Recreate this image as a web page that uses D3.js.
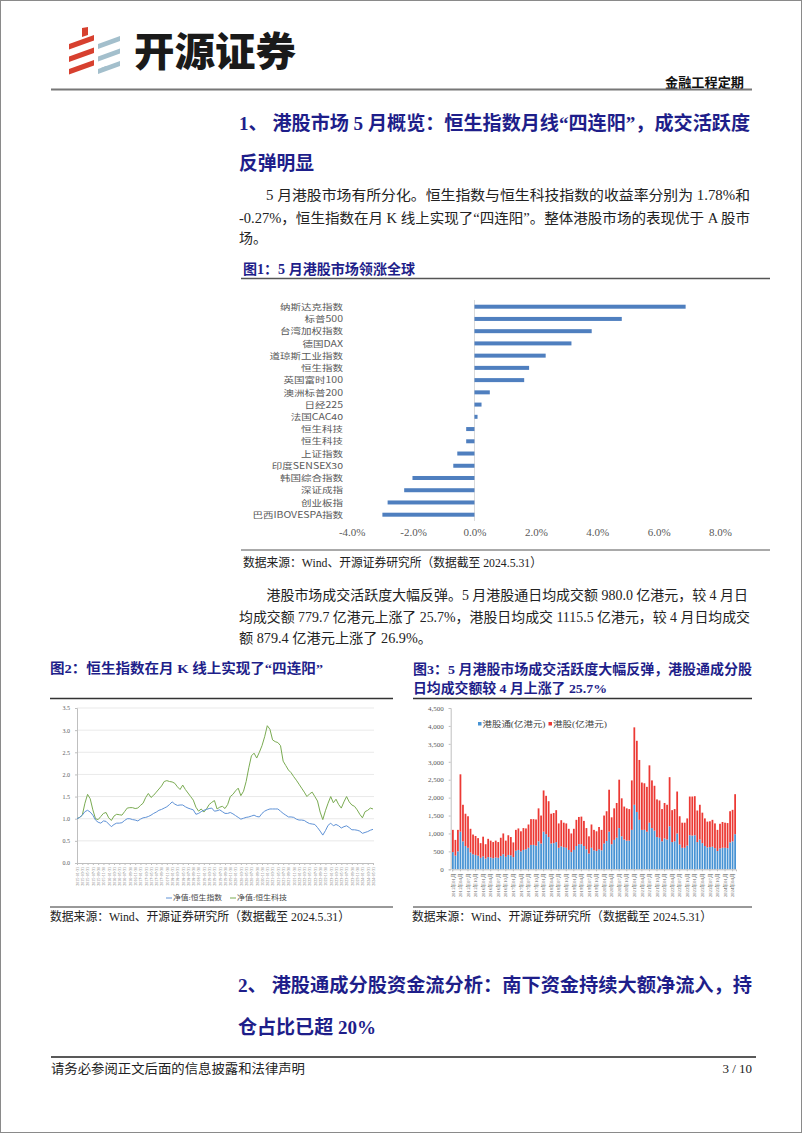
<!DOCTYPE html>
<html><head><meta charset="utf-8">
<script src="https://cdn.jsdelivr.net/npm/d3@7/dist/d3.min.js"></script>
<style>
html,body{margin:0;padding:0;background:#fff;}
svg{display:block;}
</style></head>
<body><svg id="page" width="802" height="1133"></svg>
<script>
// ---------------- DATA ----------------
const fig1Categories = ["纳斯达克指数","标普500","台湾加权指数","德国DAX","道琼斯工业指数","恒生指数","英国富时100","澳洲标普200","日经225","法国CAC40","恒生科技","恒生科技","上证指数","印度SENSEX30","韩国综合指数","深证成指","创业板指","巴西IBOVESPA指数"];
const fig1Values = [6.88,4.80,3.82,3.16,2.32,1.78,1.62,0.50,0.23,0.10,-0.27,-0.27,-0.56,-0.69,-2.02,-2.29,-2.83,-3.00];
const fig1Ticks = [-4,-2,0,2,4,6,8];

const fig2Months = d3.timeMonth.range(new Date(2015,0,1), new Date(2024,5,1));
const hsiNav = [1.0,1.03,1.08,1.16,1.19,1.15,1.08,0.97,0.92,0.90,
0.95,0.94,0.88,0.82,0.87,0.90,0.90,0.91,0.96,1.00,
1.00,0.98,0.97,0.95,0.99,1.02,1.03,1.05,1.08,1.12,
1.15,1.19,1.21,1.24,1.27,1.32,1.38,1.33,1.30,1.31,
1.31,1.27,1.24,1.22,1.20,1.10,1.12,1.16,1.19,1.21,
1.23,1.24,1.17,1.18,1.20,1.16,1.12,1.12,1.14,1.11,
1.07,1.03,0.99,1.01,1.03,1.04,1.06,1.08,1.05,1.04,
1.12,1.17,1.20,1.22,1.22,1.22,1.22,1.17,1.12,1.08,
1.04,1.04,1.03,0.99,0.97,0.97,0.96,0.92,0.89,0.88,
0.87,0.80,0.72,0.63,0.73,0.85,0.90,0.84,0.87,0.84,
0.79,0.82,0.84,0.80,0.75,0.75,0.74,0.72,0.67,0.69,
0.71,0.74,0.76];
const hstechNav = [1.00,1.03,1.08,1.35,1.55,1.45,1.20,1.00,0.98,1.05,
1.12,1.14,1.02,0.96,1.06,1.10,1.09,1.08,1.16,1.24,
1.25,1.25,1.23,1.24,1.30,1.35,1.48,1.57,1.48,1.53,
1.60,1.67,1.74,1.84,1.86,1.84,1.83,1.80,1.72,1.66,
1.76,1.66,1.58,1.50,1.42,1.26,1.17,1.22,1.15,1.22,
1.32,1.37,1.41,1.22,1.26,1.28,1.23,1.32,1.50,1.55,
1.63,1.69,1.52,1.62,1.84,2.15,2.42,2.48,2.37,2.50,
2.65,2.85,3.10,3.02,2.78,2.74,2.72,2.65,2.30,2.20,
2.10,2.04,1.95,1.87,1.78,1.69,1.60,1.50,1.56,1.60,
1.50,1.40,1.15,0.98,1.18,1.35,1.50,1.36,1.44,1.32,
1.24,1.38,1.50,1.38,1.31,1.28,1.20,1.10,1.02,1.16,
1.19,1.24,1.22];
const fig2Ticks = [0,0.5,1.0,1.5,2.0,2.5,3.0,3.5];

const fig3Months = d3.timeMonth.range(new Date(2015,0,1), new Date(2024,5,1));
const hkConnect = [480,380,500,1050,780,650,600,470,420,400,
380,320,360,300,340,330,310,330,320,370,
420,350,400,390,340,520,540,500,540,560,
600,680,680,660,780,720,1050,980,900,720,
730,760,600,640,620,600,540,480,540,650,
700,700,650,560,440,600,530,510,560,530,
720,790,1050,700,820,880,1150,920,830,800,
800,1100,1800,1600,1380,1100,1100,1050,1300,1150,
1080,900,880,780,860,830,1200,760,780,1000,
690,600,600,660,950,940,950,760,830,730,
650,610,620,630,590,510,580,600,600,590,
750,779.7,980.0];
const hkStock = [620,440,600,1600,1020,900,880,660,550,530,
490,410,550,400,510,470,450,470,440,510,
580,450,550,510,410,580,600,560,610,580,
650,720,720,730,920,780,1150,1070,1000,830,
840,890,680,730,680,680,590,520,590,730,
760,770,700,590,480,650,570,550,620,570,
780,830,1170,750,880,970,1350,1060,920,900,
880,1380,2160,1985,1670,1320,1300,1250,1600,1330,
1250,1050,1040,900,990,970,1370,890,900,1170,
790,700,700,760,1080,1090,1090,880,970,850,
770,720,720,750,690,590,690,720,700,700,
870,879.4,1115.5];
const fig3Ticks = [0,500,1000,1500,2000,2500,3000,3500,4000,4500];
const fig3Series = ["港股通(亿港元)","港股(亿港元)"];

// ---------------- PAGE ----------------
const svg = d3.select("#page");
const navy = "#1e1e8a";
const bodyFont = "'Liberation Serif','Noto Sans CJK SC',serif";
const cjkSans = "'Noto Sans CJK SC',sans-serif";

svg.append("rect").attr("x",0.5).attr("y",0.5).attr("width",801).attr("height",1132)
  .attr("fill","#fff").attr("stroke","#8a8a8a");

function txt(str, x, y, o) {
  o = o || {};
  const t = svg.append("text").attr("x",x).attr("y",y).text(str)
    .attr("font-family", o.family || bodyFont)
    .attr("font-size", o.size || 14)
    .attr("font-weight", o.weight || 400)
    .attr("fill", o.fill || "#222")
    .attr("dominant-baseline","central")
    .attr("text-anchor", o.anchor || "start");
  if (o.len) t.attr("textLength", o.len).attr("lengthAdjust", "spacingAndGlyphs");
  return t;
}
function hline(x1,x2,y,color,w){
  svg.append("line").attr("x1",x1).attr("x2",x2).attr("y1",y).attr("y2",y)
    .attr("stroke",color).attr("stroke-width",w);
}

// Logo
const logo = svg.append("g");
[0,1,2].forEach(k=>{
  const t = 35 + k*12.5;
  logo.append("path").attr("d",`M69,${t+9} L94,${t} L94,${t+5.5} L69,${t+14.5} Z`).attr("fill","#d7402f");
  logo.append("path").attr("d",`M98,${t+9} L120,${t+1} L120,${t+6} L98,${t+14} Z`).attr("fill","#a3bfcc");
});
logo.append("path").attr("d","M82,28 L88,27 L88,35 L82,37 Z").attr("fill","#d7402f");
logo.append("path").attr("d","M101,68 L106,66 L106,71 L101,71 Z").attr("fill","#a3bfcc");
txt("开源证券",134,49,{family:cjkSans,size:40,weight:900,fill:"#1a1a1a",len:162});
txt("金融工程定期",744,82,{size:13,weight:700,fill:"#111",anchor:"end",len:79});
hline(51,752,89.5,"#777",2);

// Section 1
txt("1、 港股市场 5 月概览：恒生指数月线“四连阳”，成交活跃度",239,123,{size:19,weight:700,fill:navy,len:511});
txt("反弹明显",239,163,{size:19,weight:700,fill:navy,len:75});
txt("5 月港股市场有所分化。恒生指数与恒生科技指数的收益率分别为 1.78%和",266,195,{len:484});
txt("-0.27%，恒生指数在月 K 线上实现了“四连阳”。整体港股市场的表现优于 A 股市",239,218,{len:511});
txt("场。",239,238);

// Figure 1 title
txt("图1：5 月港股市场领涨全球",243,269,{size:14,weight:700,fill:navy,len:172});
hline(241,770,278.5,"#555",1.5);

// Figure 1 chart
const x1 = d3.scaleLinear().domain([-4,8]).range([351.7,720]);
const y1 = d3.scalePoint().domain(d3.range(fig1Categories.length)).range([306.7,514.7]);
svg.append("line").attr("x1",x1(0)).attr("x2",x1(0)).attr("y1",300).attr("y2",521)
  .attr("stroke","#d9d9d9").attr("stroke-width",1);
svg.append("g").selectAll("rect").data(fig1Values).join("rect")
  .attr("x",d=>x1(Math.min(0,d))).attr("width",d=>Math.abs(x1(d)-x1(0)))
  .attr("y",(d,i)=>y1(i)-2).attr("height",4).attr("fill","#4f7fbf");
const ax1y = svg.append("g").attr("transform","translate(343,0)")
  .call(d3.axisLeft(y1).tickFormat(i=>fig1Categories[i]).tickSize(0).tickPadding(0));
ax1y.select(".domain").remove();
// labels: measure natural width at 10.5px, then draw at a smaller height with the same width
ax1y.selectAll("text").attr("font-family",cjkSans).attr("fill","#595959")
  .each(function(){
    const s = d3.select(this);
    s.attr("font-size",10.5);
    const w = this.getComputedTextLength();
    s.attr("font-size",8.4).attr("textLength",w).attr("lengthAdjust","spacingAndGlyphs");
  });
const ax1x = svg.append("g").attr("transform","translate(0,528.5)")
  .call(d3.axisBottom(x1).tickValues(fig1Ticks).tickFormat(d=>d.toFixed(1)+"%").tickSize(0).tickPadding(0));
ax1x.select(".domain").remove();
ax1x.selectAll("text").attr("font-family","'Liberation Serif',serif").attr("font-size",11).attr("fill","#595959");

hline(241,770,550,"#555",1);
txt("数据来源：Wind、开源证券研究所（数据截至 2024.5.31）",243,563,{size:12.5,len:299});

// Paragraph 2
txt("港股市场成交活跃度大幅反弹。5 月港股通日均成交额 980.0 亿港元，较 4 月日",266.5,595,{len:481.5});
txt("均成交额 779.7 亿港元上涨了 25.7%，港股日均成交 1115.5 亿港元，较 4 月日均成交",239,617,{len:511});
txt("额 879.4 亿港元上涨了 26.9%。",239,638,{len:193});

// Figure 2 title
txt("图2：恒生指数在月 K 线上实现了“四连阳”",50,668,{size:13.5,weight:700,fill:navy,len:273});
hline(50,393,698.5,"#333",1.5);
// Figure 3 title
txt("图3：5 月港股市场成交活跃度大幅反弹，港股通成分股",413,669,{size:13.5,weight:700,fill:navy,len:339});
txt("日均成交额较 4 月上涨了 25.7%",413,688,{size:13.5,weight:700,fill:navy,len:194});
hline(413,752,698.5,"#333",1.5);

// Figure 2 chart
const fmtDay = d3.timeFormat("%Y-%m-%d");
const x2 = d3.scalePoint().domain(d3.range(fig2Months.length)).range([77,373]);
const y2 = d3.scaleLinear().domain([0,3.5]).range([863,708]);
svg.append("g").selectAll("line").data(fig2Ticks.slice(1)).join("line")
  .attr("x1",77).attr("x2",374).attr("y1",d=>y2(d)).attr("y2",d=>y2(d))
  .attr("stroke","#e3e3e3").attr("stroke-width",0.8);
const ax2y = svg.append("g").attr("transform","translate(77,0)")
  .call(d3.axisLeft(y2).tickValues(fig2Ticks).tickFormat(d3.format(".1f")).tickSize(2).tickPadding(5));
ax2y.select(".domain").attr("stroke","#bfbfbf");
ax2y.selectAll("line").attr("stroke","#bfbfbf");
ax2y.selectAll("text").attr("font-family","'Liberation Serif',serif").attr("font-size",6).attr("fill","#595959");
const ax2x = svg.append("g").attr("transform","translate(0,863)")
  .call(d3.axisBottom(x2).tickValues(d3.range(0,fig2Months.length,2))
    .tickFormat(i=>fmtDay(d3.timeDay.offset(d3.timeMonth.offset(fig2Months[i],1),-1))).tickSize(2));
ax2x.select(".domain").attr("stroke","#bfbfbf");
ax2x.selectAll("line").attr("stroke","#bfbfbf");
ax2x.selectAll("text").attr("font-family","'Liberation Serif',serif").attr("font-size",4)
  .attr("fill","#777").attr("transform","rotate(-90)").attr("text-anchor","end")
  .attr("x",-4).attr("y",0).attr("dy","0.35em");
const line2 = d3.line().x((d,i)=>x2(i)).y(d=>y2(d));
svg.append("path").datum(hstechNav).attr("d",line2).attr("fill","none").attr("stroke","#7aab52").attr("stroke-width",1);
svg.append("path").datum(hsiNav).attr("d",line2).attr("fill","none").attr("stroke","#5f92d6").attr("stroke-width",1);
// legend 2
hline(166,172,898,"#5f92d6",1);
txt("净值:恒生指数",173,898,{size:7,fill:"#444",len:49});
hline(230,236,898,"#7aab52",1);
txt("净值:恒生科技",237,898,{size:7,fill:"#444",len:50});

// Figure 3 chart
const fmtMon = d3.timeFormat("%Y年%m月");
const x3 = d3.scaleBand().domain(d3.range(fig3Months.length)).range([452,736]).paddingInner(0.3);
const y3 = d3.scaleLinear().domain([0,4500]).range([869.3,708]);
const table3 = fig3Months.map((m,i)=>({i, a:hkConnect[i], b:hkStock[i]}));
const stack3 = d3.stack().keys(["a","b"])(table3);
const colors3 = ["#4793d4","#ec3934"];
svg.append("g").selectAll("g").data(stack3).join("g").attr("fill",(d,k)=>colors3[k])
  .selectAll("rect").data(d=>d).join("rect")
  .attr("x",d=>x3(d.data.i)).attr("width",x3.bandwidth())
  .attr("y",d=>y3(d[1])).attr("height",d=>y3(d[0])-y3(d[1]));
const ax3y = svg.append("g").attr("transform","translate(450.7,0)")
  .call(d3.axisLeft(y3).tickValues(fig3Ticks).tickSize(2).tickPadding(5));
ax3y.select(".domain").attr("stroke","#bfbfbf");
ax3y.selectAll("line").attr("stroke","#bfbfbf");
ax3y.selectAll("text").attr("font-family","'Liberation Serif',serif").attr("font-size",7).attr("fill","#595959");
const ax3x = svg.append("g").attr("transform","translate(0,869.3)")
  .call(d3.axisBottom(x3).tickValues(d3.range(0,fig3Months.length,3)).tickFormat(i=>fmtMon(fig3Months[i])).tickSize(2));
ax3x.select(".domain").attr("stroke","#bfbfbf");
ax3x.selectAll("line").attr("stroke","#bfbfbf");
ax3x.selectAll("text").attr("font-family","'Liberation Serif','Noto Sans CJK SC',serif").attr("font-size",4.8)
  .attr("fill","#666").attr("transform","rotate(-90)").attr("text-anchor","end")
  .attr("x",-4).attr("y",0).attr("dy","0.35em");
// legend 3
svg.append("rect").attr("x",478).attr("y",722).attr("width",3.5).attr("height",3.5).attr("fill",colors3[0]);
txt(fig3Series[0],482.5,724,{size:7.5,fill:"#444",len:63});
svg.append("rect").attr("x",548.5).attr("y",722).attr("width",3.5).attr("height",3.5).attr("fill",colors3[1]);
txt(fig3Series[1],553,724,{size:7.5,fill:"#444",len:54});

// sources
hline(50,393,907,"#333",1);
txt("数据来源：Wind、开源证券研究所（数据截至 2024.5.31）",50,917,{size:12.5,len:300});
hline(413,752,907,"#333",1);
txt("数据来源：Wind、开源证券研究所（数据截至 2024.5.31）",412,917,{size:12.5,len:300});

// Section 2
txt("2、 港股通成分股资金流分析：南下资金持续大额净流入，持",238,985,{size:19,weight:700,fill:navy,len:514});
txt("仓占比已超 20%",238,1027,{size:19,weight:700,fill:navy,len:138});

// Footer
hline(51,756,1057,"#222",1.5);
txt("请务必参阅正文后面的信息披露和法律声明",51,1068,{size:13,fill:"#222",len:254});
txt("3 / 10",752,1068,{size:13,fill:"#222",anchor:"end"});
</script>
</body></html>
